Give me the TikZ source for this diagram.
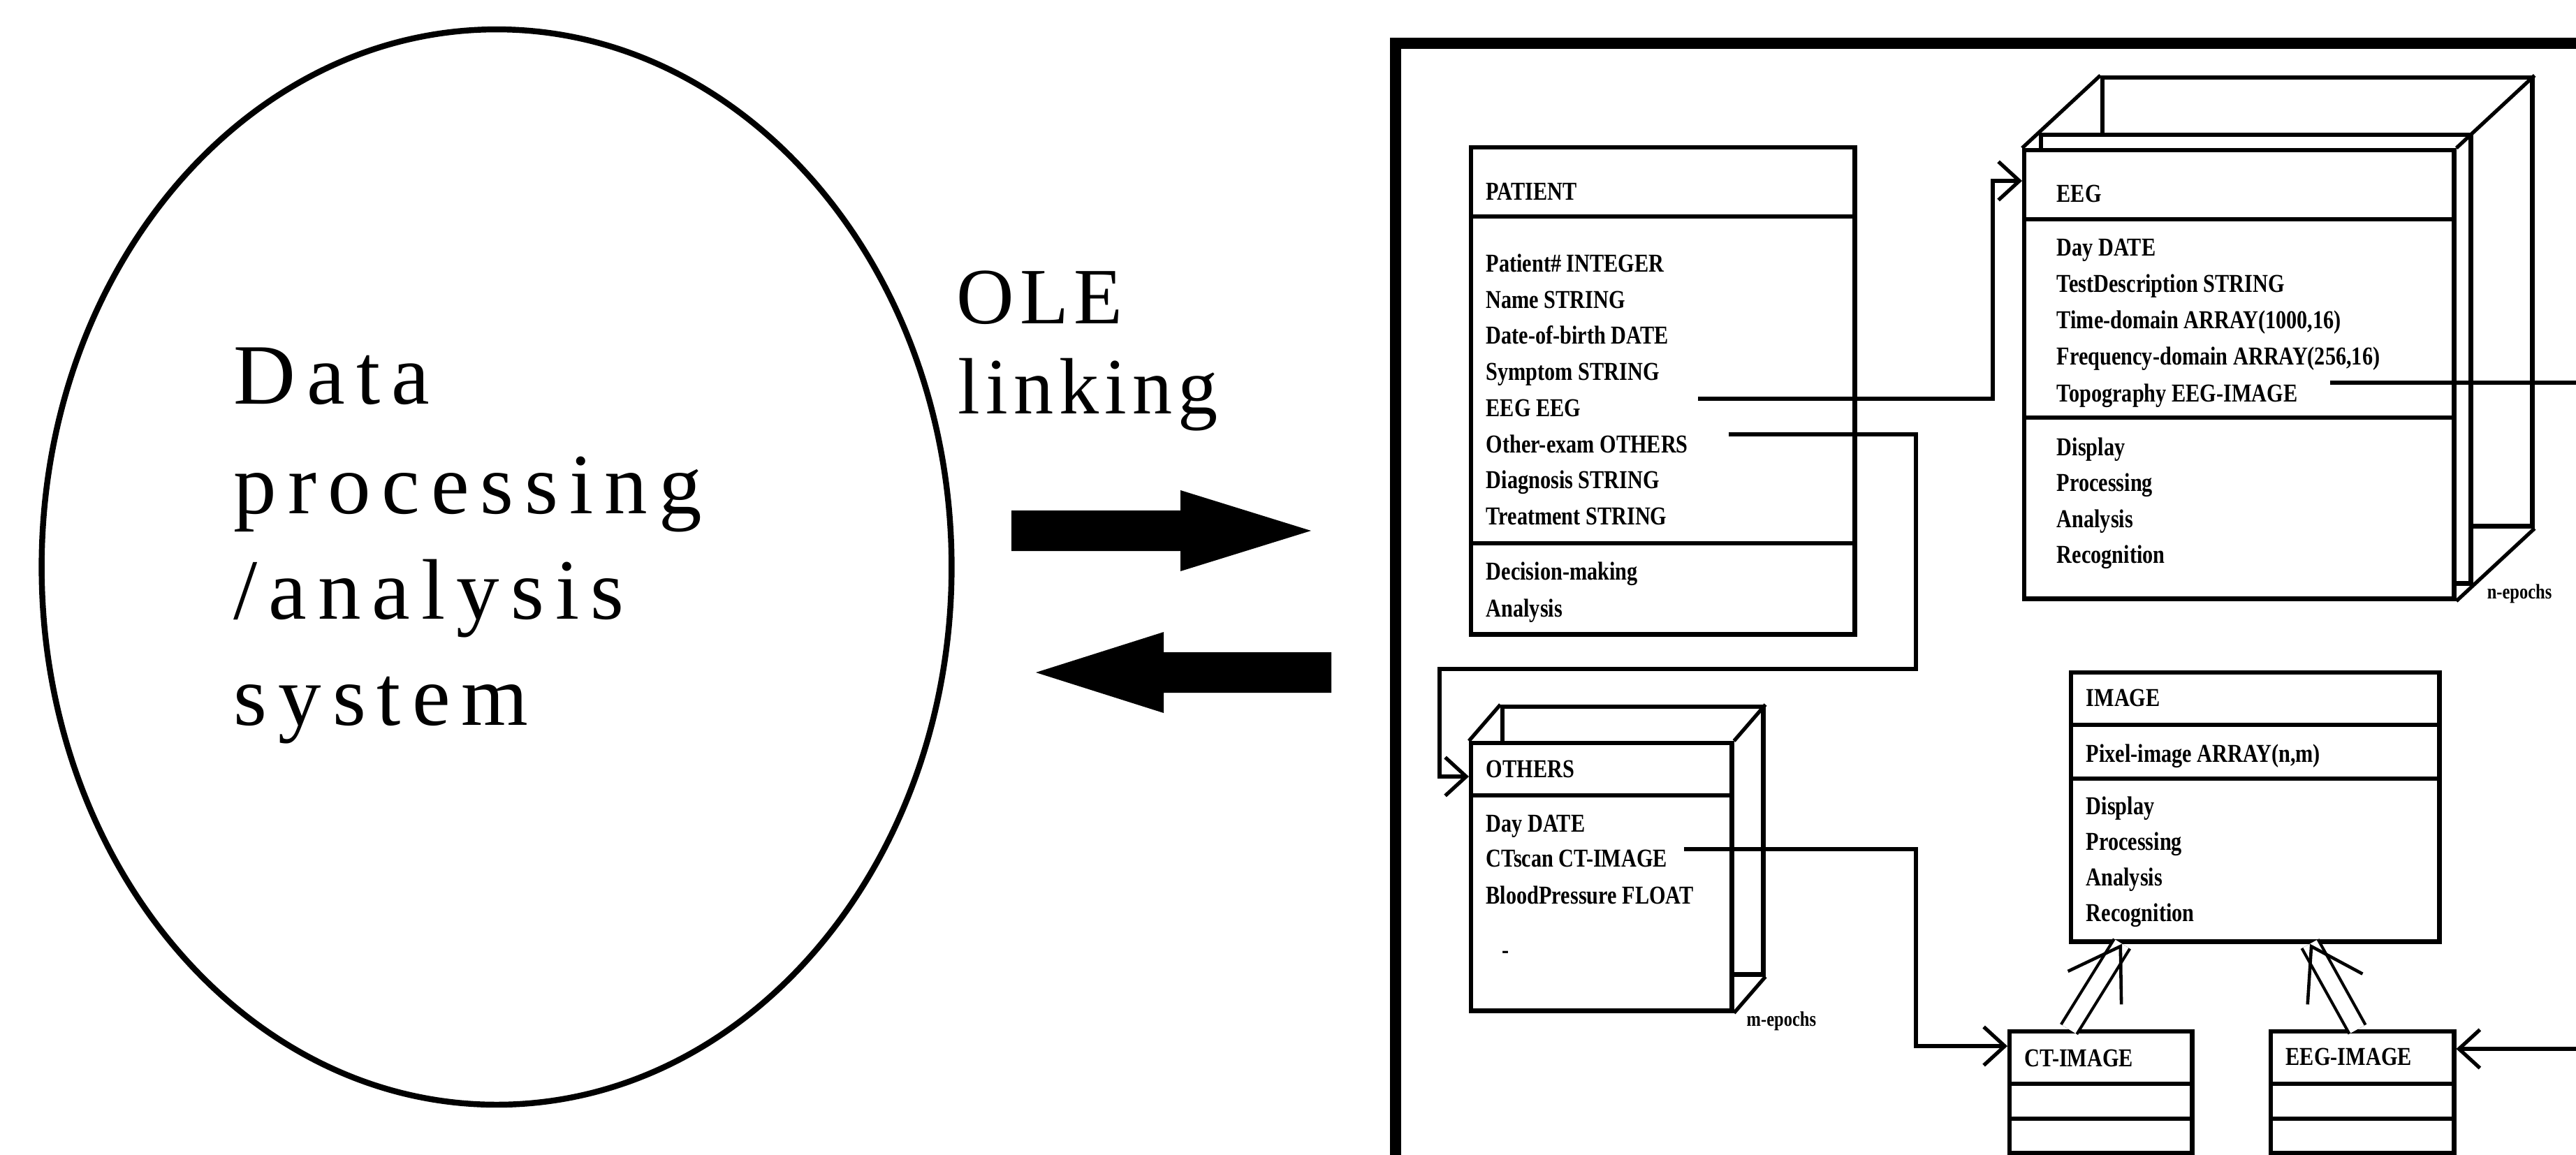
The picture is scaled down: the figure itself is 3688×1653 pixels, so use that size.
\documentclass[tikz,border=0pt]{standalone}
\usepackage{fontspec}
\newfontfamily\bigfont[LetterSpace=13]{Liberation Serif}
\newfontfamily\olefont[LetterSpace=7]{Liberation Serif}
\newfontfamily\umlfont[FakeStretch=0.82]{Liberation Serif}
\usetikzlibrary{shapes.geometric, arrows.meta, calc}
\tikzset{
    cls/.style={draw, rectangle, line width=1.8pt, fill=white, inner sep=0pt, anchor=north west},
    row/.style={anchor=base west, inner sep=0pt, font=\umlfont\bfseries\fontsize{10.5}{12}\selectfont},
    tag/.style={anchor=west, inner sep=0pt, font=\umlfont\bfseries\fontsize{8.5}{10}\selectfont},
    bigtxt/.style={anchor=base west, inner sep=0pt, font=\bigfont\fontsize{35}{40}\selectfont},
    oletxt/.style={anchor=base west, inner sep=0pt, font=\olefont\fontsize{32.5}{38}\selectfont},
    sep/.style={line width=1.8pt},
    assoc/.style={line width=1.5pt, -{Straight Barb[length=3mm, width=5.5mm]}},
    gen/.style={double, double distance=2.2mm, line width=1.2pt},
    genhead/.style={line width=1.3pt, -{Straight Barb[length=7mm, width=9mm]}}
}

\begin{document}
\begin{tikzpicture}[x=0.01cm, y=-0.01cm]
    \useasboundingbox (0,0) rectangle (3688,1653);
    \clip (0,0) rectangle (3688,1653);

    % left: the processing system
    \node[draw, ellipse, line width=2.4pt, minimum width=13.02cm, minimum height=15.39cm, inner sep=0pt] (dps) at (711,812) {};
    \node[bigtxt] (t1) at (334,578) {Data};
    \node[bigtxt] (t2) at (334,735) {processing};
    \node[bigtxt] (t3) at (334,886) {/analysis};
    \node[bigtxt] (t4) at (334,1038) {system};

    \node[oletxt] (ole) at (1369,463) {OLE};
    \node[oletxt] (link) at (1371,592) {linking};
    \fill (1448,731) -- (1690,731) -- (1690,702) -- (1877,760) -- (1690,818) -- (1690,789) -- (1448,789) -- cycle;
    \fill (1906,934) -- (1666,934) -- (1666,905) -- (1483,963) -- (1666,1021) -- (1666,992) -- (1906,992) -- cycle;

    % right: the class diagram
    \draw[line width=4.3pt] (1998,1800) -- (1998,62) -- (3800,62);

    % PATIENT
    \node[cls, minimum width=5.49cm, minimum height=6.97cm] (patient) at (2103,208) {};
    \draw[sep] (patient.west |- 0,310) -- (patient.east |- 0,310);
    \draw[sep] (patient.west |- 0,778) -- (patient.east |- 0,778);
    \node[row] (pname) at (2127,286) {PATIENT};
    \node[row] (p1) at (2127,389) {Patient\# INTEGER};
    \node[row] (p2) at (2127,441) {Name STRING};
    \node[row] (p3) at (2127,492) {Date-of-birth DATE};
    \node[row] (p4) at (2127,544) {Symptom STRING};
    \node[row] (p5) at (2127,596) {EEG EEG};
    \node[row] (p6) at (2127,648) {Other-exam OTHERS};
    \node[row] (p7) at (2127,699) {Diagnosis STRING};
    \node[row] (p8) at (2127,751) {Treatment STRING};
    \node[row] (p9) at (2127,830) {Decision-making};
    \node[row] (p10) at (2127,883) {Analysis};

    % EEG, n epochs
    \node[cls, minimum width=6.15cm, minimum height=6.42cm] (eegback) at (3007,108) {};
    \node[cls, minimum width=6.15cm, minimum height=6.42cm] (eegmid) at (2919,190) {};
    \node[cls, minimum width=6.15cm, minimum height=6.42cm] (eeg) at (2895,212) {};
    \foreach \a in {north west, north east, south east}
        \draw[line width=1.5pt] (eeg.\a) -- (eegback.\a);
    \draw[sep] (eeg.west |- 0,314) -- (eeg.east |- 0,314);
    \draw[sep] (eeg.west |- 0,598) -- (eeg.east |- 0,598);
    \node[row] (ename) at (2944,289) {EEG};
    \node[row] (e1) at (2944,366) {Day DATE};
    \node[row] (e2) at (2944,418) {TestDescription STRING};
    \node[row] (e3) at (2944,470) {Time-domain ARRAY(1000,16)};
    \node[row] (e4) at (2944,522) {Frequency-domain ARRAY(256,16)};
    \node[row] (e5) at (2944,575) {Topography EEG-IMAGE};
    \node[row] (e6) at (2944,652) {Display};
    \node[row] (e7) at (2944,703) {Processing};
    \node[row] (e8) at (2944,755) {Analysis};
    \node[row] (e9) at (2944,806) {Recognition};
    \node[tag] (nep) at (3560,850) {n-epochs};

    % OTHERS, m epochs
    \node[cls, minimum width=3.73cm, minimum height=3.83cm] (othback) at (2148,1009) {};
    \node[cls, minimum width=3.73cm, minimum height=3.83cm] (others) at (2103,1061) {};
    \foreach \a in {north west, north east, south east}
        \draw[line width=1.5pt] (others.\a) -- (othback.\a);
    \draw[sep] (others.west |- 0,1139) -- (others.east |- 0,1139);
    \node[row] (oname) at (2127,1113) {OTHERS};
    \node[row] (o1) at (2127,1191) {Day DATE};
    \node[row] (o2) at (2127,1241) {CTscan CT-IMAGE};
    \node[row] (o3) at (2127,1294) {BloodPressure FLOAT};
    \node[row] (o4) at (2150,1372) {-};
    \node[tag] (mep) at (2500,1462) {m-epochs};

    % IMAGE and its two kinds
    \node[cls, minimum width=5.27cm, minimum height=3.85cm] (image) at (2962,960) {};
    \draw[sep] (image.west |- 0,1038) -- (image.east |- 0,1038);
    \draw[sep] (image.west |- 0,1115) -- (image.east |- 0,1115);
    \node[row] (iname) at (2986,1011) {IMAGE};
    \node[row] (i1) at (2986,1091) {Pixel-image ARRAY(n,m)};
    \node[row] (i2) at (2986,1166) {Display};
    \node[row] (i3) at (2986,1217) {Processing};
    \node[row] (i4) at (2986,1268) {Analysis};
    \node[row] (i5) at (2986,1319) {Recognition};

    \node[cls, minimum width=2.61cm, minimum height=1.74cm] (ctimg) at (2874,1474) {};
    \draw[sep] (ctimg.west |- 0,1552) -- (ctimg.east |- 0,1552);
    \draw[sep] (ctimg.west |- 0,1602) -- (ctimg.east |- 0,1602);
    \node[row] (cname) at (2898,1527) {CT-IMAGE};

    \node[cls, minimum width=2.62cm, minimum height=1.74cm] (eegimg) at (3248,1474) {};
    \draw[sep] (eegimg.west |- 0,1552) -- (eegimg.east |- 0,1552);
    \draw[sep] (eegimg.west |- 0,1602) -- (eegimg.east |- 0,1602);
    \node[row] (gname) at (3272,1525) {EEG-IMAGE};

    % links
    \coordinate (offr) at (3760,0);
    \draw[assoc] (2431,571) -- (2853,571) |- (eeg.west |- 0,259);
    \draw[assoc] (2475,622) -| (2743,958) -| (2061,1112) -- (others.west |- 0,1112);
    \draw[assoc] (2411,1216) -| (2743,1498) -- (ctimg.west |- 0,1498);
    \draw[assoc] (3336,548) -- (offr |- 0,548) -- (offr |- 0,1502) -- (eegimg.east |- 0,1502);

    \coordinate (ctfoot) at (ctimg.north -| 2962,0);
    \coordinate (cttip) at (image.south -| 3038,0);
    \coordinate (eifoot) at (eegimg.north -| 3375,0);
    \coordinate (eitip) at (image.south -| 3307,0);
    \draw[gen] (ctfoot) -- (cttip);
    \draw[genhead] ($(ctfoot)!0.97!(cttip)$) -- (cttip);
    \draw[gen] (eifoot) -- (eitip);
    \draw[genhead] ($(eifoot)!0.97!(eitip)$) -- (eitip);
\end{tikzpicture}
\end{document}
